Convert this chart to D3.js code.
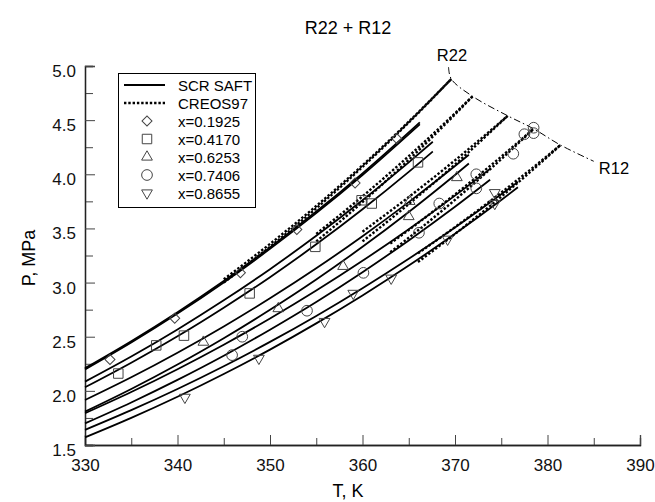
<!DOCTYPE html>
<html>
<head>
<meta charset="utf-8">
<script src="https://cdn.jsdelivr.net/npm/d3@7"></script>
<style>
  body { margin: 0; background: #fff; }
  svg { font-family: "Liberation Sans", Arial, sans-serif; }
</style>
</head>
<body>
<svg id="chart" width="655" height="502"></svg>
<script>
// SCR SAFT curves (bubble + dew for each composition), [T, P]
const saft01925a = [[330,2.21],[335,2.459],[340,2.727],[345,3.015],[350,3.325],[355,3.656],[360,4.009],[366.2,4.48]]
const saft01925b = [[330,2.198],[335,2.447],[340,2.714],[345,3.001],[350,3.311],[355,3.641],[360,3.993],[366.2,4.462]]
const saft04170a = [[330,2.085],[335,2.317],[340,2.567],[345,2.836],[350,3.124],[355,3.432],[360,3.760],[365,4.110],[367.6,4.30]]
const saft04170b = [[330,2.033],[335,2.260],[340,2.504],[345,2.768],[350,3.050],[355,3.353],[360,3.677],[365,4.022],[367.6,4.21]]
const saft06253a = [[330,1.915],[335,2.125],[340,2.352],[345,2.595],[350,2.855],[355,3.132],[360,3.428],[365,3.743],[370,4.076],[371.5,4.18]]
const saft06253b = [[330,1.808],[335,2.017],[340,2.243],[345,2.486],[350,2.749],[355,3.029],[360,3.330],[365,3.652],[370,3.994],[371.5,4.10]]
const saft07406a = [[330,1.793],[335,1.989],[340,2.200],[345,2.426],[350,2.668],[355,2.926],[360,3.201],[365,3.493],[370,3.803],[373.8,4.05]]
const saft07406b = [[330,1.70],[335,1.893],[340,2.101],[345,2.324],[350,2.565],[355,2.821],[360,3.096],[365,3.389],[370,3.700],[373.8,3.95]]
const saft08655a = [[330,1.64],[335,1.822],[340,2.017],[345,2.227],[350,2.452],[355,2.692],[360,2.948],[365,3.220],[370,3.509],[375,3.815],[376.8,3.93]]
const saft08655b = [[330,1.571],[335,1.751],[340,1.946],[345,2.156],[350,2.381],[355,2.623],[360,2.881],[365,3.157],[370,3.451],[375,3.763],[376.8,3.88]]

// CREOS97 curves
const creos01925a = [[345,3.03],[350,3.357],[355,3.707],[360,4.083],[365,4.486],[369.6,4.88]]
const creos01925b = [[345,3.00],[350,3.331],[355,3.686],[360,4.068],[365,4.478],[369.6,4.88]]
const creos04170a = [[355,3.45],[360,3.796],[365,4.168],[370,4.563],[371.9,4.72]]
const creos04170b = [[355,3.38],[360,3.743],[365,4.134],[370,4.553],[371.9,4.72]]
const creos06253a = [[360,3.47],[365,3.790],[370,4.129],[375.7,4.54]]
const creos06253b = [[360,3.38],[365,3.724],[370,4.091],[375.7,4.54]]
const creos07406a = [[363,3.36],[365,3.486],[370,3.814],[375,4.163],[378.5,4.42]]
const creos07406b = [[363,3.28],[365,3.414],[370,3.764],[375,4.140],[378.5,4.42]]
const creos08655a = [[366,3.27],[370,3.512],[375,3.831],[380,4.171],[381.4,4.27]]
const creos08655b = [[366,3.19],[370,3.449],[375,3.793],[380,4.162],[381.4,4.27]]

// critical locus R22 -> R12
const criticalLine = [[369.3,4.99],[369.6,4.88],[371.9,4.72],[375.7,4.54],[378.5,4.42],[381.4,4.27],[385.0,4.12]]

// experimental points
const pts01925 = [[332.7,2.29],[339.7,2.67],[346.8,3.09],[352.9,3.49],[359.2,3.92],[363.7,4.33]]
const pts04170 = [[333.6,2.16],[337.7,2.42],[340.7,2.51],[347.8,2.90],[354.9,3.33],[359.9,3.76],[361.0,3.73],[366.0,4.11]]
const pts06253 = [[342.8,2.45],[350.9,2.76],[357.9,3.15],[365.0,3.61],[365.1,3.75],[370.2,3.97]]
const pts07406 = [[345.9,2.33],[347.0,2.50],[354.0,2.74],[360.1,3.09],[366.1,3.46],[368.3,3.73],[372.3,3.87],[372.3,4.00],[376.3,4.19],[377.5,4.37],[378.5,4.38],[378.5,4.43]]
const pts08655 = [[340.8,1.94],[348.8,2.30],[355.9,2.64],[359.0,2.90],[363.1,3.04],[369.2,3.40],[374.3,3.83],[374.3,3.73]]

const legendNames = ['SCR SAFT', 'CREOS97', 'x=0.1925', 'x=0.4170', 'x=0.6253', 'x=0.7406', 'x=0.8655']
const xTicks = [330, 340, 350, 360, 370, 380, 390]
const yTicks = [1.5, 2.0, 2.5, 3.0, 3.5, 4.0, 4.5, 5.0]

var svg = d3.select('#chart')

var x = d3.scaleLinear().domain([330, 390]).range([85, 640])
var y = d3.scaleLinear().domain([1.5, 5.0]).range([445, 66])

// axes, ticks pointing inward
svg.append('g')
  .attr('transform', 'translate(0,445)')
  .call(d3.axisBottom(x).tickValues(d3.range(335, 390, 10)).tickSize(-7).tickFormat(''))
var xAxis = svg.append('g')
  .attr('transform', 'translate(0,445)')
  .call(d3.axisBottom(x).tickValues(xTicks).tickSize(-10).tickPadding(14).tickFormat(d3.format('d')))
svg.append('g')
  .attr('transform', 'translate(85,0)')
  .call(d3.axisLeft(y).tickValues(d3.range(1.75, 5, 0.5)).tickSize(-8).tickFormat(''))
var yAxis = svg.append('g')
  .attr('transform', 'translate(85,0)')
  .call(d3.axisLeft(y).tickValues(yTicks).tickSize(-10).tickPadding(9).tickFormat(d3.format('.1f')))

svg.selectAll('.domain').attr('stroke', '#222').attr('stroke-width', 1.3)
svg.selectAll('.tick line').attr('stroke', '#444')
svg.selectAll('.tick text').attr('font-size', 17).attr('fill', '#111')
  .attr('font-family', '"Liberation Sans", Arial, sans-serif')
yAxis.selectAll('.tick text').attr('dy', '0.62em')

// titles
svg.append('text').attr('x', 348).attr('y', 34).attr('text-anchor', 'middle')
  .attr('font-size', 18).text('R22 + R12')
svg.append('text').attr('x', 348).attr('y', 497).attr('text-anchor', 'middle')
  .attr('font-size', 18).text('T, K')
svg.append('text').attr('transform', 'translate(35,258) rotate(-90)').attr('text-anchor', 'middle')
  .attr('font-size', 18).text('P, MPa')

var line = d3.line().x(d => x(d[0])).y(d => y(d[1])).curve(d3.curveMonotoneX)

var saft = [saft01925a, saft01925b, saft04170a, saft04170b, saft06253a, saft06253b,
  saft07406a, saft07406b, saft08655a, saft08655b]
var creos = [creos01925a, creos01925b, creos04170a, creos04170b, creos06253a, creos06253b,
  creos07406a, creos07406b, creos08655a, creos08655b]

svg.append('g').selectAll('path').data(saft).enter().append('path')
  .attr('d', line).attr('fill', 'none').attr('stroke', '#000').attr('stroke-width', 1.8)

svg.append('g').selectAll('path').data(creos).enter().append('path')
  .attr('d', line).attr('fill', 'none').attr('stroke', '#000').attr('stroke-width', 2.4)
  .attr('stroke-dasharray', '2.4,1.9')

svg.append('path').datum(criticalLine).attr('d', line.curve(d3.curveCatmullRom))
  .attr('fill', 'none').attr('stroke', '#000').attr('stroke-width', 1)
  .attr('stroke-dasharray', '7,3,1.5,3')

svg.append('text').attr('x', 452).attr('y', 61).attr('text-anchor', 'middle').attr('font-size', 16.5).text('R22')
svg.append('text').attr('x', 614).attr('y', 174).attr('text-anchor', 'middle').attr('font-size', 16.5).text('R12')

// marker shapes
var shapes = [
  d3.symbol().type(d3.symbolSquare).size(50),   // rotated 45 -> diamond
  d3.symbol().type(d3.symbolSquare).size(90),
  d3.symbol().type(d3.symbolTriangle).size(50),
  d3.symbol().type(d3.symbolCircle).size(90),
  d3.symbol().type(d3.symbolTriangle).size(50)
]
var rot = [45, 0, 0, 0, 180]
var pointSets = [pts01925, pts04170, pts06253, pts07406, pts08655]

pointSets.forEach((set, k) => {
  svg.append('g').selectAll('path').data(set).enter().append('path')
    .attr('d', shapes[k])
    .attr('transform', d => `translate(${x(d[0])},${y(d[1])}) rotate(${rot[k]})`)
    .attr('fill', 'none').attr('stroke', '#444').attr('stroke-width', 1)
})

// legend
var lg = svg.append('g')
lg.append('rect').attr('x', 118.5).attr('y', 73.5).attr('width', 137).attr('height', 134)
  .attr('fill', '#fff').attr('stroke', '#000').attr('stroke-width', 1)
legendNames.forEach((name, i) => {
  var yy = 85 + i * 18
  lg.append('text').attr('x', 178).attr('y', yy + 5.5).attr('font-size', 15).text(name)
  if (i === 0) {
    lg.append('line').attr('x1', 124).attr('x2', 165).attr('y1', yy).attr('y2', yy)
      .attr('stroke', '#000').attr('stroke-width', 2)
  } else if (i === 1) {
    lg.append('line').attr('x1', 124).attr('x2', 165).attr('y1', yy).attr('y2', yy)
      .attr('stroke', '#000').attr('stroke-width', 2.4).attr('stroke-dasharray', '2.4,1.9')
  } else {
    lg.append('path').attr('d', shapes[i - 2])
      .attr('transform', `translate(147,${yy}) rotate(${rot[i - 2]})`)
      .attr('fill', 'none').attr('stroke', '#444').attr('stroke-width', 1)
  }
})
</script>
</body>
</html>
